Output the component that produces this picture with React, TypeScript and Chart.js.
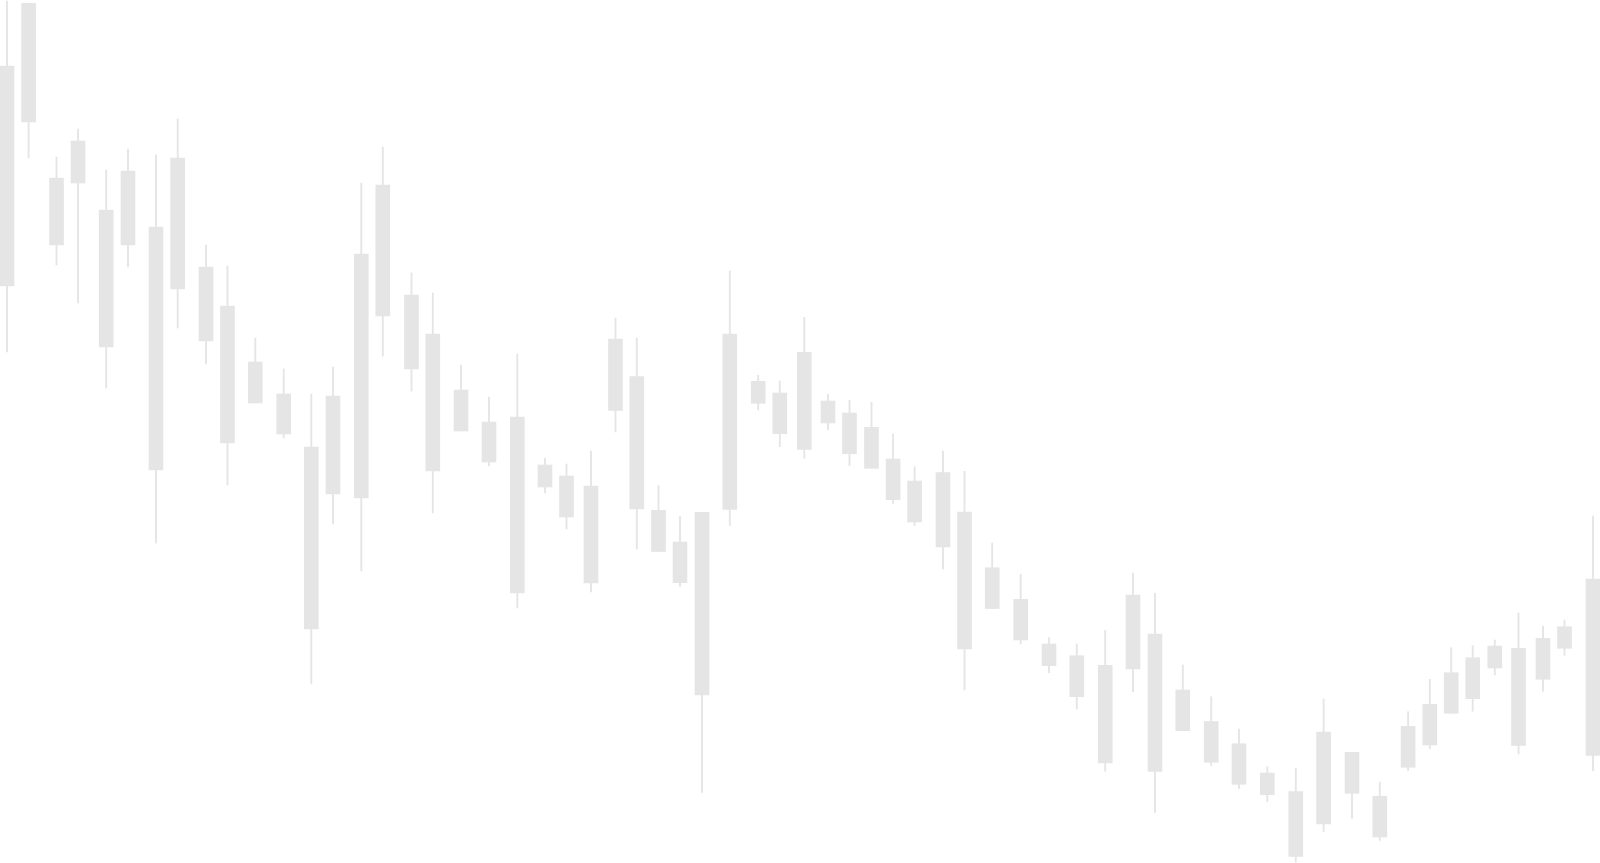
import React, { useEffect, useRef } from "react";
import { Chart, registerables } from "chart.js";

Chart.register(...registerables);

// Time position of each candle (arbitrary time units)
const times = [
  7, 28.6, 56.5, 78, 106.2, 128, 156, 177.7, 206, 227.5,
  255.3, 283.7, 311.3, 333, 361.3, 382.8, 411.5, 432.8, 461, 489,
  517.3, 545, 566.5, 591, 615.5, 636.8, 658.5, 680, 702, 729.8,
  758.2, 779.8, 804.3, 828, 849.5, 871.5, 893.1, 914.6, 943, 964.5,
  992.2, 1020.7, 1049, 1076.8, 1105.2, 1133, 1155, 1182.8, 1211.2, 1239,
  1267.3, 1295.8, 1323.6, 1352, 1379.8, 1408.1, 1429.8, 1451.2, 1472.7, 1494.8,
  1518.5, 1543, 1564.5, 1593,
];

const open = [
  93.4, 99.67, 82.2, 85.9, 79.0, 82.9, 77.3, 84.2, 73.3, 69.4,
  63.8, 60.6, 55.3, 60.4, 74.6, 81.5, 70.5, 66.6, 61.0, 57.8,
  58.3, 53.5, 52.4, 51.4, 66.1, 62.33, 48.97, 45.8, 48.77, 66.6,
  61.87, 60.7, 64.77, 59.9, 58.7, 57.27, 54.1, 51.9, 52.73, 48.8,
  43.23, 40.07, 35.6, 34.43, 33.47, 40.5, 36.6, 31.0, 27.85, 25.63,
  22.7, 20.85, 26.8, 24.77, 20.38, 27.37, 29.57, 32.73, 34.23, 35.4,
  35.17, 36.17, 37.33, 42.1,
];

const close = [
  71.4, 87.8, 75.5, 81.7, 65.3, 75.5, 53.0, 71.1, 65.9, 55.7,
  59.7, 56.6, 37.1, 50.6, 50.2, 68.4, 63.1, 52.9, 56.9, 53.8,
  40.7, 51.3, 48.3, 41.7, 58.95, 49.1, 44.85, 41.73, 30.5, 49.07,
  59.67, 56.63, 55.05, 57.7, 54.63, 53.17, 50.03, 47.8, 45.3, 35.1,
  39.15, 36.0, 33.43, 30.33, 23.7, 33.1, 22.87, 26.93, 23.77, 21.57,
  20.53, 14.35, 17.6, 20.67, 16.3, 23.27, 25.5, 28.67, 30.13, 33.2,
  25.47, 32.07, 35.17, 24.47,
];

const high = [
  99.9, 99.7, 84.3, 87.1, 83.0, 85.1, 84.5, 88.1, 75.5, 73.4,
  66.2, 63.1, 60.6, 63.3, 81.7, 85.3, 72.7, 70.7, 63.5, 60.3,
  64.6, 54.2, 53.6, 54.9, 68.2, 66.2, 51.45, 48.35, 48.77, 72.9,
  62.47, 61.9, 68.27, 60.57, 59.97, 59.77, 56.6, 53.33, 54.9, 52.87,
  45.7, 42.57, 36.23, 35.6, 36.97, 42.7, 40.67, 33.5, 30.33, 27.1,
  23.33, 23.17, 30.1, 24.77, 21.8, 28.83, 32.07, 35.23, 35.43, 36.0,
  38.7, 37.4, 38.0, 48.4,
];

const low = [
  64.8, 84.2, 73.5, 69.7, 61.2, 73.3, 45.7, 67.2, 63.6, 51.5,
  59.7, 56.2, 31.6, 47.6, 42.9, 64.4, 60.9, 48.7, 56.9, 53.4,
  39.2, 50.7, 47.1, 40.8, 56.8, 45.1, 44.85, 41.36, 20.75, 47.46,
  59.0, 55.33, 54.17, 57.0, 53.43, 53.17, 49.67, 47.43, 43.1, 31.0,
  39.15, 35.6, 32.73, 29.1, 22.87, 30.83, 18.77, 26.93, 23.43, 21.17,
  19.83, 13.77, 16.83, 18.17, 15.95, 22.93, 25.13, 28.67, 28.87, 32.5,
  24.6, 30.87, 34.47, 22.93,
];

const CANDLE_COLOR = "#e5e5e5";

export default function App() {
  const canvasRef = useRef<HTMLCanvasElement | null>(null);

  useEffect(() => {
    const canvas = canvasRef.current;
    if (!canvas) return;

    const bodies = times.map((t, i) => ({ x: t, y: [close[i], open[i]] }));
    const wicks = times.map((t, i) => ({ x: t, y: [low[i], high[i]] }));

    const chart = new Chart(canvas, {
      type: "bar",
      data: {
        datasets: [
          {
            label: "wick",
            data: wicks as any,
            backgroundColor: CANDLE_COLOR,
            borderWidth: 0,
            barThickness: 1.2,
            grouped: false,
            order: 2,
          } as any,
          {
            label: "body",
            data: bodies as any,
            backgroundColor: CANDLE_COLOR,
            borderWidth: 0,
            barThickness: 14,
            grouped: false,
            order: 1,
          } as any,
        ],
      },
      options: {
        responsive: false,
        animation: false,
        devicePixelRatio: 1,
        layout: { padding: 0 },
        plugins: {
          legend: { display: false },
          tooltip: { enabled: false },
          title: { display: false },
        },
        scales: {
          x: {
            type: "linear",
            display: false,
            min: 0,
            max: 1600,
            offset: false,
            grid: { display: false, offset: false },
          },
          y: {
            type: "linear",
            display: false,
            min: 13.7,
            max: 100,
            beginAtZero: false,
            grid: { display: false },
          },
        },
      } as any,
    });

    return () => {
      chart.destroy();
    };
  }, []);

  return (
    <div
      style={{
        position: "fixed",
        left: 0,
        top: 0,
        width: 1600,
        height: 863,
        background: "#ffffff",
      }}
    >
      <canvas
        ref={canvasRef}
        width={1600}
        height={863}
        style={{ display: "block", width: 1600, height: 863 }}
      />
    </div>
  );
}
